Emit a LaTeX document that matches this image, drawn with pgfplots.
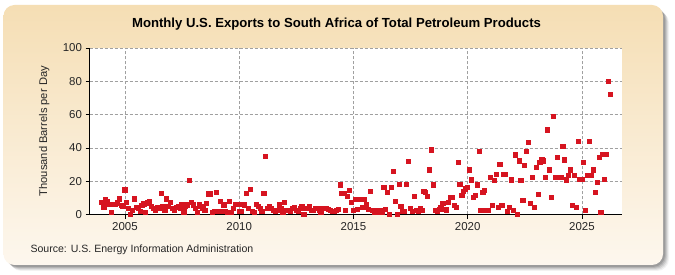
\documentclass[border=0pt]{standalone}
\usepackage{fontspec}
\setmainfont{Liberation Sans}
\usepackage{pgfplots}
\usepackage{pgfplotstable}
\pgfplotsset{compat=1.18}

\definecolor{panelTop}{RGB}{245,222,180}
\definecolor{panelBot}{RGB}{253,247,238}
\definecolor{markRed}{RGB}{214,20,32}
\definecolor{gridGray}{RGB}{160,160,160}

% Monthly exports, thousand barrels per day (one row per year, Jan..Dec)
\pgfplotstableread{
yr   m1   m2   m3   m4   m5   m6   m7   m8   m9   m10  m11  m12
2004 7.1  4.1  9.1  7.5  6.1  1.3  6.1  6.1  6.9  9.3  5.5  4.9
2005 14.7 7.1  3.7  0    2.5  9.3  4    3.7  1.7  5.5  6.3  1.3
2006 6.9  7.5  4.7  3.7  2.5  4.3  3.7  12.7 4.7  2.5  9.3  4.7
2007 7    3.7  2.5  4    4.7  3.7  5.7  1.5  4.7  5.7  20.3 7
2008 5.7  3.7  1    5.7  4.7  3.7  2.5  6.5  12.3 12.3 1    2
2009 13   2    8    2    5.7  2    1    8    1    3.7  6    6
2010 2    2    6    5.7  12.7 3.7  15   2    1    6    4.7  3.7
2011 2    12.7 34.7 3.7  4.7  3.7  2.5  1.7  2.5  5.7  3.7  1.3
2012 7    2.5  2.5  1.7  3.7  4    2.5  1.7  3.7  5    0    3.7
2013 3.7  5    2.5  2.5  3.7  3.7  2.5  1    3.7  3.7  3.7  3
2014 2.5  1.7  1.7  2.5  3    17.7 12.5 12.5 2.5  10.7 14.3 7
2015 2.5  9    3    9    9    4    9    5.7  3    14   2.5  1.5
2016 2.5  1.5  2.5  1    16   3    13   0    16   26   8    0
2017 18   5    2    2    18   32   3.7  2    11   2.5  2    3.7
2018 2.5  14   13   11   26.7 38.7 17.7 2.5  2    3    4    6.7
2019 3    2.7  7.3  10   10   5.3  4    31   18   11.3 13.7 15.3
2020 16.1 26.7 20.7 10   11.3 17.7 37.7 2.3  13   14.3 2.3  2.3
2021 22.1 5.3  20.3 24.1 4.1  30.1 5.3  24.1 24.1 2    4.1  20.7
2022 2.3  35.7 0    32.1 20.3 8.3  29.3 37.7 43.1 6.7  22.1 4.1
2023 28.1 11.9 31.4 32.7 32.1 22.1 50.8 26.7 10.1 58.7 22.1 34.1
2024 22.1 22.1 40.7 32.7 20.7 23.3 26.7 5.3  23.3 4.1  43.7 21.1
2025 21.1 31.1 2.3  23.3 43.7 23.3 26.7 13.1 19.3 34.1 1.1  36.1
2026 21.1 36.1 79.8 72.2 nan  nan  nan  nan  nan  nan  nan  nan
}\exports

\begin{document}
\begin{tikzpicture}
% page backdrop
\fill[white] (0,0) rectangle (675bp,275bp);
% soft drop shadow of the panel
\foreach \d/\op in {6/0.05,5/0.07,4/0.09,3/0.11,2/0.13}{
  \fill[black, opacity=\op, rounded corners=12bp]
    ({3.5bp+\d bp},{10bp-\d bp}) rectangle ({663bp+\d bp},{270bp-\d bp});
}
% panel
\shade[top color=panelTop, bottom color=panelBot, rounded corners=11bp]
  (3.5bp,10bp) rectangle (663bp,270bp);

\begin{axis}[
  at={(89.5bp,60.5bp)}, anchor=south west,
  scale only axis, width=532bp, height=166.5bp,
  xmin=2003.45, xmax=2026.73, ymin=0, ymax=100,
  axis background/.style={fill=white},
  axis x line*=bottom, axis y line*=left,
  axis line style={black, line width=0.8bp},
  xtick={2005,2010,2015,2020,2025},
  ytick={0,20,40,60,80,100},
  grid=major,
  major grid style={gridGray, dash pattern=on 3bp off 2bp, line width=0.6bp},
  tick align=outside, major tick length=4bp,
  tick style={black, line width=0.6bp},
  ticklabel style={font=\fontsize{11.5}{13}\selectfont, text=black!85},
  /pgf/number format/assume math mode=true,
  /pgf/number format/1000 sep={},
  ylabel={Thousand Barrels per Day},
  ylabel style={at={(axis description cs:-0.085,0.5)}, anchor=center,
    font=\fontsize{11.2}{13}\selectfont, text=black!85},
  clip=false,
]
\pgfplotsinvokeforeach{1,...,12}{
  \addplot[only marks, mark=square*, mark size=2.1bp,
    mark options={fill=markRed, draw=markRed, line width=0pt}]
    table[x expr={\thisrow{yr}+(#1-1)/12}, y=m#1]{\exports};
}
\end{axis}

% title and source line
\node[font=\bfseries\fontsize{13.2}{15}\selectfont] at (336.5bp,251bp)
  {Monthly U.S. Exports to South Africa of Total Petroleum Products};
\node[anchor=west, font=\fontsize{10.6}{12}\selectfont, text=black!85] at (27bp,25bp)
  {Source: U.S. Energy Information Administration};

\pgfresetboundingbox
\path (0,0) rectangle (675bp,275bp);
\end{tikzpicture}
\end{document}
